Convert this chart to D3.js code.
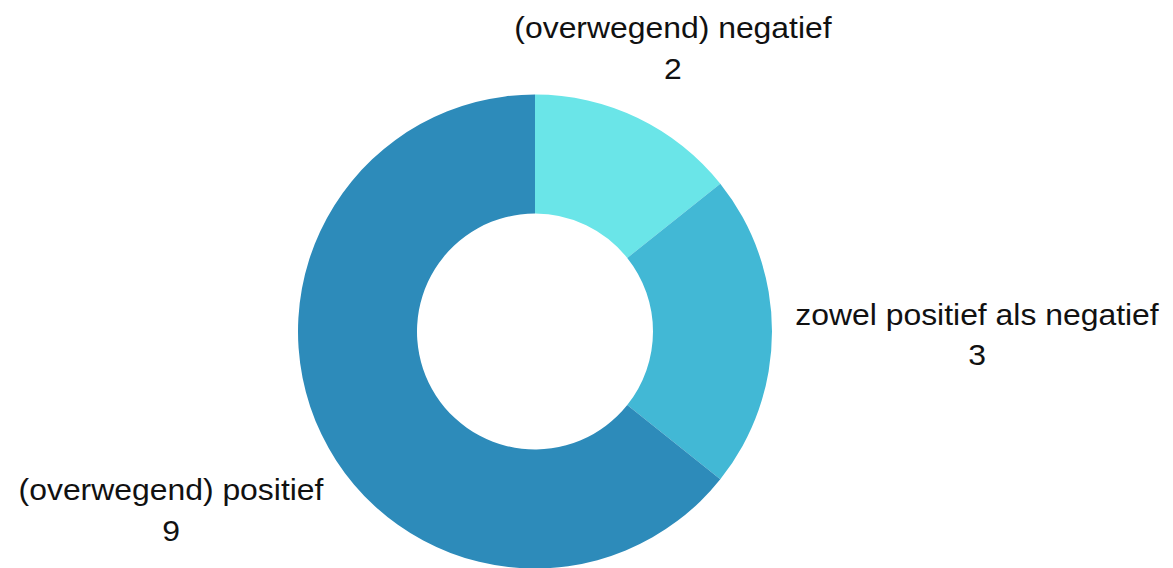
<!DOCTYPE html>
<html lang="nl">
<head>
  <meta charset="UTF-8">
  <title>Donut</title>
  <style>
    html, body { margin: 0; padding: 0; background: #fff; }
    text { font-family: "Liberation Sans", Arial, sans-serif; fill: #111; }
  </style>
</head>
<body>
  <div id="chart"></div>
  <script src="https://d3js.org/d3.v7.min.js"></script>
  <script>
    // data
    const categories = ['(overwegend) negatief', 'zowel positief als negatief', '(overwegend) positief']
    const values = [2, 3, 9]
    const colors = ['#6ae5e8', '#42b8d5', '#2d8bba']

    const width = 1173
    const height = 568
    const cx = 535
    const cy = 331.5
    const outerR = 237
    const innerR = 118
    // afstand van het middelpunt tot het label, per segment
    const labelDist = [318, 442, 404]

    const svg = d3.select('#chart').append('svg')
      .attr('width', width)
      .attr('height', height)

    const g = svg.append('g').attr('transform', `translate(${cx},${cy})`)

    const pie = d3.pie().sort(null).value(d => d)
    const arcs = pie(values)

    const arc = d3.arc().innerRadius(innerR).outerRadius(outerR)

    g.selectAll('path.slice')
      .data(arcs)
      .enter()
      .append('path')
      .attr('class', 'slice')
      .attr('d', arc)
      .attr('fill', (d, i) => colors[i])

    // labels: categorie + waarde
    const labels = g.selectAll('g.label')
      .data(arcs)
      .enter()
      .append('g')
      .attr('class', 'label')
      .attr('transform', (d, i) => {
        const a = (d.startAngle + d.endAngle) / 2
        const x = Math.sin(a) * labelDist[i]
        const y = -Math.cos(a) * labelDist[i]
        return `translate(${x},${y}) scale(1.1,1)`
      })

    labels.append('text')
      .attr('text-anchor', 'middle')
      .attr('y', -7)
      .style('font-size', '29px')
      .text((d, i) => categories[i])

    labels.append('text')
      .attr('text-anchor', 'middle')
      .attr('y', 34)
      .style('font-size', '29px')
      .text(d => d.data)
  </script>
</body>
</html>
